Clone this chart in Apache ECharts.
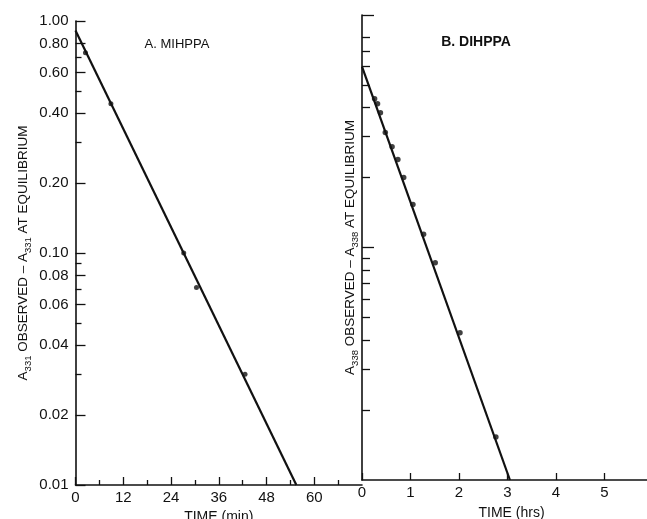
<!DOCTYPE html>
<html>
<head>
<meta charset="utf-8">
<script src="https://cdn.jsdelivr.net/npm/echarts@6/dist/echarts.min.js"></script>
<style>
html,body{margin:0;padding:0;background:#fff;}
#chart{width:647px;height:519px;}
</style>
</head>
<body>
<div id="chart"></div>
<script>
// ---- Data ----
// Panel A: MIHPPA (time in minutes)
const timeA = [2.5, 8.9, 27.2, 30.4, 42.6];
const absA  = [0.73, 0.44, 0.100, 0.071, 0.030];
const fitTimeA = [0, 55.5];
const fitAbsA  = [0.91, 0.01];
// Panel B: DIHPPA (time in hours)
const timeB = [0.26, 0.32, 0.38, 0.48, 0.62, 0.74, 0.86, 1.05, 1.27, 1.51, 2.02, 2.76];
const absB  = [0.436, 0.415, 0.38, 0.312, 0.271, 0.239, 0.20, 0.153, 0.114, 0.086, 0.043, 0.0153];
const fitTimeB = [0, 3.05];
const fitAbsB  = [0.60, 0.01];

// Tick values / labels
const yLabelTicksA = [1, 0.8, 0.6, 0.4, 0.2, 0.1, 0.08, 0.06, 0.04, 0.02, 0.01];
const yMinorTicksA = [0.7, 0.5, 0.3, 0.09, 0.07, 0.05, 0.03];
const yMajorTicksB = [1, 0.1];
const yMinorTicksB = [0.8, 0.7, 0.6, 0.5, 0.4, 0.3, 0.2, 0.09, 0.08, 0.07, 0.06, 0.05, 0.04, 0.03, 0.02];
const xLabelTicksA = [0, 12, 24, 36, 48, 60];
const xMinorTicksA = [6, 18, 30, 42, 54, 66];
const xLabelTicksB = [0, 1, 2, 3, 4, 5];

const FONT = "'Liberation Sans', Arial, sans-serif";
const INK = '#111';

function pairs(xs, ys) { return xs.map((x, i) => [x, ys[i]]); }

function yName(sub) {
  return '{b|A}{s|' + sub + '}{b| OBSERVED – A}{s|' + sub + '}{b| AT EQUILIBRIUM}';
}
const nameRich = {
  b: { fontFamily: FONT, fontSize: 13.5, color: INK, lineHeight: 18, verticalAlign: 'bottom' },
  s: { fontFamily: FONT, fontSize: 9.5, color: INK, lineHeight: 18, verticalAlign: 'bottom', padding: [0, 0, -3, 0] }
};

const chart = echarts.init(document.getElementById('chart'), null, { renderer: 'canvas' });

const axisLineStyle = { show: true, lineStyle: { color: INK, width: 1.6 } };

const option = {
  backgroundColor: '#fff',
  animation: false,
  grid: [
    { left: 75.5, top: 21, width: 286.5, height: 464, outerBoundsMode: 'none' },
    { left: 362, top: 15, width: 291, height: 465, outerBoundsMode: 'none' }
  ],
  xAxis: [
    { type: 'value', gridIndex: 0, position: 'bottom', min: 0, max: 72,
      axisLine: axisLineStyle, splitLine: { show: false },
      axisTick: { inside: true, length: 8, lineStyle: { color: INK, width: 1.3 }, customValues: xLabelTicksA },
      axisLabel: { customValues: xLabelTicksA, fontFamily: FONT, fontSize: 15, color: INK, margin: 5 },
      name: 'TIME (min)', nameLocation: 'middle', nameGap: 21,
      nameTextStyle: { fontFamily: FONT, fontSize: 14, color: INK } },
    { type: 'value', gridIndex: 0, position: 'bottom', min: 0, max: 72,
      axisLine: { show: false }, splitLine: { show: false },
      axisTick: { inside: true, length: 5, lineStyle: { color: INK, width: 1.3 }, customValues: xMinorTicksA },
      axisLabel: { show: false } },
    { type: 'value', gridIndex: 1, position: 'bottom', min: 0, max: 6,
      axisLine: axisLineStyle, splitLine: { show: false },
      axisTick: { inside: true, length: 7, lineStyle: { color: INK, width: 1.3 }, customValues: xLabelTicksB },
      axisLabel: { customValues: xLabelTicksB, fontFamily: FONT, fontSize: 15, color: INK, margin: 5 },
      name: 'TIME (hrs)', nameLocation: 'middle', nameGap: 26,
      nameTextStyle: { fontFamily: FONT, fontSize: 14, color: INK, padding: [0, 0, 0, 8] } }
  ],
  yAxis: [
    { type: 'log', logBase: 10, gridIndex: 0, position: 'left', min: 0.01, max: 1,
      axisLine: axisLineStyle, splitLine: { show: false },
      axisTick: { inside: true, length: 10, lineStyle: { color: INK, width: 1.3 }, customValues: yLabelTicksA },
      axisLabel: { customValues: yLabelTicksA, formatter: v => Number(v).toFixed(2),
                   fontFamily: FONT, fontSize: 15, color: INK, margin: 7 },
      name: yName('331'), nameLocation: 'middle', nameRotate: 90, nameGap: 45,
      nameTextStyle: { rich: nameRich } },
    { type: 'log', logBase: 10, gridIndex: 0, position: 'left', min: 0.01, max: 1,
      axisLine: { show: false }, splitLine: { show: false },
      axisTick: { inside: true, length: 6, lineStyle: { color: INK, width: 1.3 }, customValues: yMinorTicksA },
      axisLabel: { show: false } },
    { type: 'log', logBase: 10, gridIndex: 1, position: 'left', min: 0.01, max: 1,
      axisLine: axisLineStyle, splitLine: { show: false },
      axisTick: { inside: true, length: 12, lineStyle: { color: INK, width: 1.3 }, customValues: yMajorTicksB },
      axisLabel: { show: false },
      name: yName('338'), nameLocation: 'middle', nameRotate: 90, nameGap: 5,
      nameTextStyle: { rich: nameRich } },
    { type: 'log', logBase: 10, gridIndex: 1, position: 'left', min: 0.01, max: 1,
      axisLine: { show: false }, splitLine: { show: false },
      axisTick: { inside: true, length: 8, lineStyle: { color: INK, width: 1.3 }, customValues: yMinorTicksB },
      axisLabel: { show: false } }
  ],
  series: [
    { type: 'line', xAxisIndex: 0, yAxisIndex: 0, data: pairs(fitTimeA, fitAbsA),
      showSymbol: false, lineStyle: { color: INK, width: 2.2 }, silent: true },
    { type: 'scatter', xAxisIndex: 0, yAxisIndex: 0, data: pairs(timeA, absA),
      symbolSize: 5, itemStyle: { color: INK } },
    { type: 'line', xAxisIndex: 2, yAxisIndex: 2, data: pairs(fitTimeB, fitAbsB),
      showSymbol: false, lineStyle: { color: INK, width: 2.2 }, silent: true },
    { type: 'scatter', xAxisIndex: 2, yAxisIndex: 2, data: pairs(timeB, absB),
      symbolSize: 5.5, itemStyle: { color: INK } }
  ],
  graphic: [
    { type: 'text', x: 177, y: 44, style: { text: 'A. MIHPPA', fontFamily: FONT, fontSize: 13,
      fill: INK, textAlign: 'center', textVerticalAlign: 'middle' } },
    { type: 'text', x: 476, y: 42, style: { text: 'B. DIHPPA', fontFamily: FONT, fontSize: 14, fontWeight: 'bold',
      fill: INK, textAlign: 'center', textVerticalAlign: 'middle' } }
  ]
};
chart.setOption(option);
</script>
</body>
</html>
